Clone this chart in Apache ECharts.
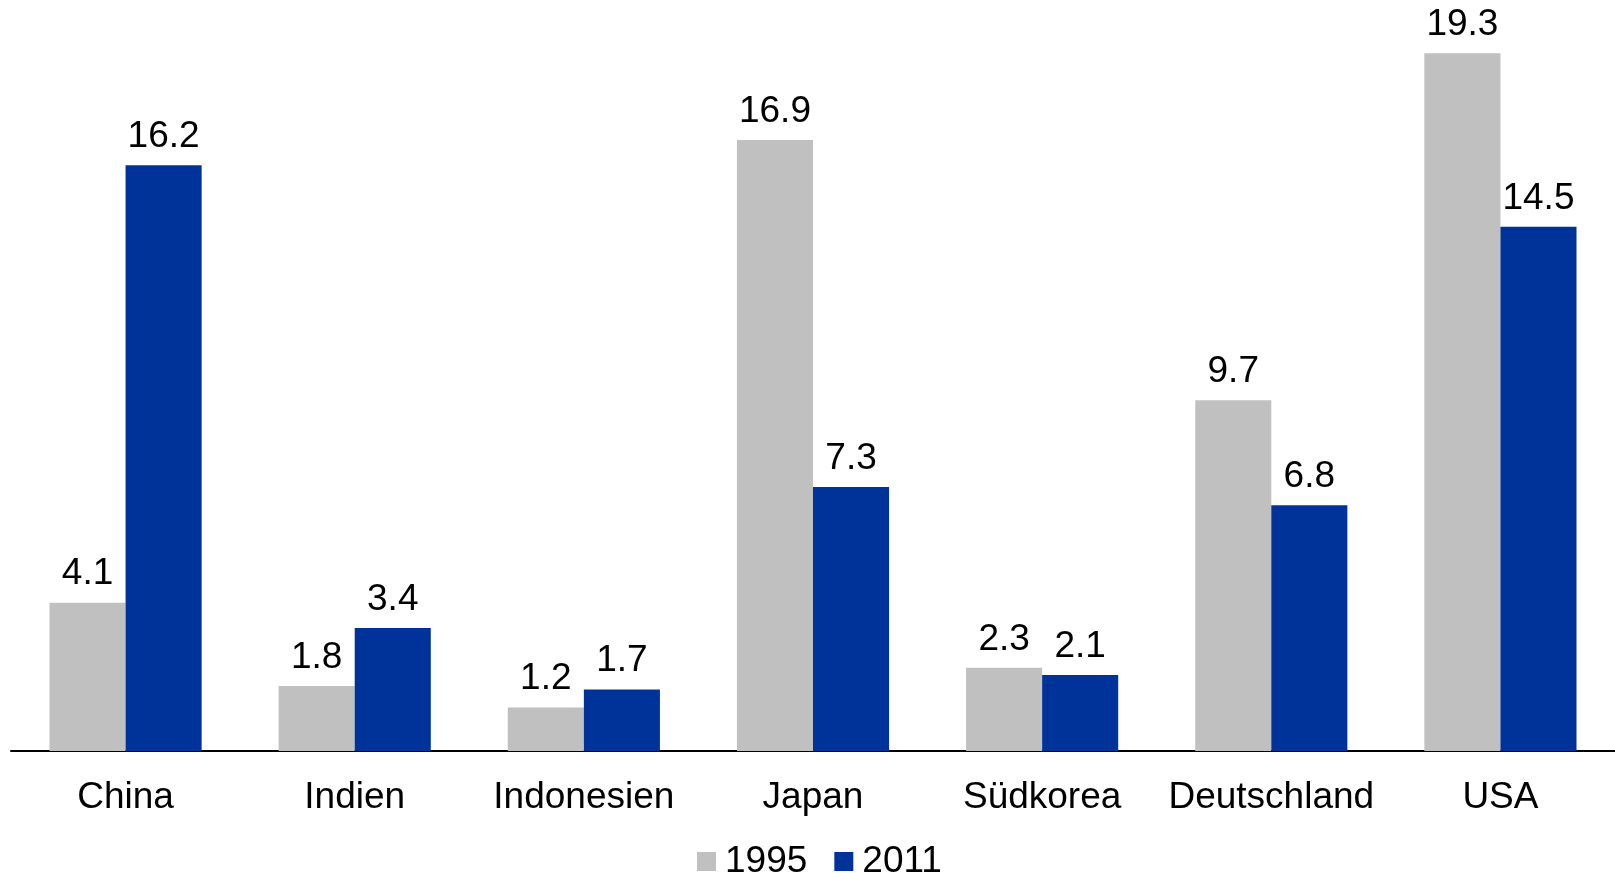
<!DOCTYPE html>
<html>
<head>
<meta charset="utf-8">
<script src="https://cdn.jsdelivr.net/npm/echarts@6/dist/echarts.min.js"></script>
<style>html,body{margin:0;padding:0;background:#fff}#c{width:1615px;height:873px}</style>
</head>
<body>
<div id="c"></div>
<script>
const categories = ['China', 'Indien', 'Indonesien', 'Japan', 'Südkorea', 'Deutschland', 'USA'];
const values1995 = [4.1, 1.8, 1.2, 16.9, 2.3, 9.7, 19.3];
const values2011 = [16.2, 3.4, 1.7, 7.3, 2.1, 6.8, 14.5];
const seriesNames = ['1995', '2011'];

const font = 'Liberation Sans, Arial, sans-serif';
const chart = echarts.init(document.getElementById('c'));
const labelCfg = {
  show: true, position: 'top', distance: 10,
  color: '#000', fontSize: 37, fontFamily: font,
  formatter: p => p.value.toFixed(1)
};
chart.setOption({
  animation: false,
  grid: { left: 11, right: 0, top: 28, bottom: 122, containLabel: false },
  legend: {
    data: seriesNames,
    top: 838, left: 692,
    itemWidth: 19, itemHeight: 19, itemGap: 27,
    icon: 'rect',
    textStyle: { fontSize: 37, fontFamily: font, color: '#000', padding: [0, 0, 0, 4] }
  },
  xAxis: {
    type: 'category', data: categories,
    axisLine: { lineStyle: { color: '#000', width: 2 } },
    axisTick: { show: false },
    axisLabel: { color: '#000', fontSize: 37, fontFamily: font, margin: 28, interval: 0 }
  },
  yAxis: { type: 'value', min: 0, max: 20, show: false, splitLine: { show: false } },
  series: [
    { name: seriesNames[0], type: 'bar', data: values1995, barGap: '0%', barCategoryGap: '33.6%',
      itemStyle: { color: '#C0C0C0' }, label: labelCfg },
    { name: seriesNames[1], type: 'bar', data: values2011, barGap: '0%', barCategoryGap: '33.6%',
      itemStyle: { color: '#003399' }, label: labelCfg }
  ]
});
</script>
</body>
</html>
